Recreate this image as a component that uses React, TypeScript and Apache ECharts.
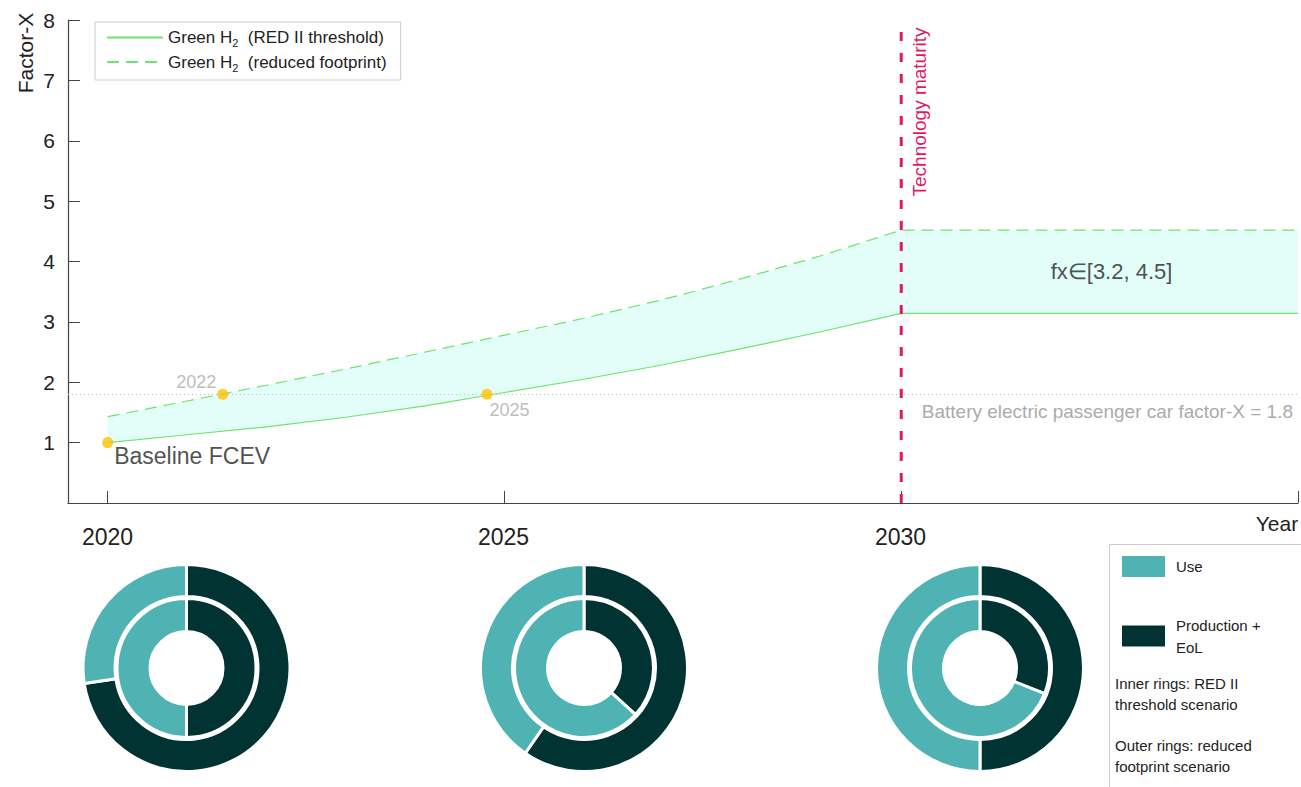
import React, { useEffect, useRef } from 'react';
import * as echarts from 'echarts';

// ---------- data ----------
const years = [2020, 2021, 2022, 2023, 2024, 2025, 2026, 2027, 2028, 2029, 2030, 2035];
const redIIThreshold = [1.0, 1.13, 1.26, 1.42, 1.61, 1.83, 2.05, 2.29, 2.56, 2.84, 3.14, 3.14];
const reducedFootprint = [1.43, 1.69, 1.95, 2.22, 2.5, 2.78, 3.06, 3.37, 3.72, 4.1, 4.52, 4.52];

const milestoneYears = [2020, 2021.45, 2024.78];
const milestoneValues = [1.0, 1.8, 1.8];
const milestoneLabels = ['Baseline FCEV', '2022', '2025'];

const bevFactorX = 1.8;
const bevLabel = 'Battery electric passenger car factor-X = 1.8';
const maturityYear = 2030;
const maturitySpan = [0, 7.85];
const rangeLabel = 'fx\u2208[3.2, 4.5]';
const rangeLabelAt = [2032.65, 3.83];

const xTickValues = [2020, 2025, 2030, 2035];

const pieYears = ['2020', '2025', '2030'];
const innerProduction = [50, 36.7, 31];
const innerUse = [50, 63.3, 69];
const outerProduction = [72.6, 59.6, 50];
const outerUse = [27.4, 40.4, 50];

const SOLID = 'Green H2 (RED II threshold)';
const DASHED = 'Green H2 (reduced footprint)';
const USE = 'Use';
const PROD = 'Production + EoL';

// ---------- style ----------
const FONT = '"Liberation Sans", Arial, Helvetica, sans-serif';
const GREEN = '#6ee46e';
const BAND = '#e3fdf9';
const RED = '#e0185f';
const GOLD = '#fcc200';
const TEAL = '#50b3b3';
const DARK = '#013333';
const TXT = '#222222';
const GREY = '#ababab';
const pieCenters = [[186.5, 668], [584, 668], [980, 668]];
const titleX = [82, 478, 875];

export default function App() {
  const ref = useRef<HTMLDivElement>(null);

  useEffect(() => {
    document.body.style.margin = '0';
    if (!ref.current) return;
    const chart = echarts.init(ref.current, null, { renderer: 'svg' });

    const solidData = years.map((y, i) => [y, redIIThreshold[i]]);
    const dashedData = years.map((y, i) => [y, reducedFootprint[i]]);

    const milestoneLabelStyles: any[] = [
      { position: 'right', distance: 1, offset: [0, 13], color: TXT, fontSize: 23 },
      { position: 'left', distance: 1, offset: [0, -12], color: GREY, fontSize: 18 },
      { position: 'right', distance: -3, offset: [0, 16], color: GREY, fontSize: 18 },
    ];

    const pieSeries: any[] = [];
    pieYears.forEach((yr, i) => {
      pieSeries.push({
        type: 'pie',
        name: yr + ' inner',
        center: pieCenters[i],
        radius: [36.5, 69.5],
        startAngle: 90,
        silent: true,
        label: { show: false },
        labelLine: { show: false },
        itemStyle: { borderColor: '#fff', borderWidth: 3 },
        data: [
          { name: PROD, value: innerProduction[i], itemStyle: { color: DARK } },
          { name: USE, value: innerUse[i], itemStyle: { color: TEAL } },
        ],
      });
      pieSeries.push({
        type: 'pie',
        name: yr + ' outer',
        center: pieCenters[i],
        radius: [71.5, 103.5],
        startAngle: 90,
        silent: true,
        label: { show: false },
        labelLine: { show: false },
        itemStyle: { borderColor: '#fff', borderWidth: 3 },
        data: [
          { name: PROD, value: outerProduction[i], itemStyle: { color: DARK } },
          { name: USE, value: outerUse[i], itemStyle: { color: TEAL } },
        ],
      });
    });

    const graphic: any[] = [
      {
        type: 'text', x: 25, y: 53, rotation: Math.PI / 2,
        style: { text: 'Factor-X', font: `21px ${FONT}`, fill: TXT, align: 'center', verticalAlign: 'middle' },
      },
      {
        type: 'text', x: 1277, y: 523,
        style: { text: 'Year', font: `21px ${FONT}`, fill: TXT, align: 'center', verticalAlign: 'middle' },
      },
      {
        type: 'text', x: 919, y: 112, rotation: Math.PI / 2,
        style: { text: 'Technology maturity', font: `19px ${FONT}`, fill: RED, align: 'center', verticalAlign: 'middle' },
      },
      ...pieYears.map((yr, i) => ({
        type: 'text', x: titleX[i], y: 537,
        style: { text: yr, font: `23px ${FONT}`, fill: TXT, align: 'left', verticalAlign: 'middle' },
      })),
      {
        type: 'rect', shape: { x: 1109.5, y: 544.5, width: 220, height: 260 },
        style: { fill: 'none', stroke: '#cccccc', lineWidth: 1 }, z: 0,
      },
      {
        type: 'text', x: 1115, y: 694,
        style: { text: 'Inner rings: RED II\nthreshold scenario', font: `15px ${FONT}`, lineHeight: 21, fill: TXT, align: 'left', verticalAlign: 'middle' },
      },
      {
        type: 'text', x: 1115, y: 756,
        style: { text: 'Outer rings: reduced\nfootprint scenario', font: `15px ${FONT}`, lineHeight: 21, fill: TXT, align: 'left', verticalAlign: 'middle' },
      },
    ];

    const option: any = {
      animation: false,
      textStyle: { fontFamily: FONT },
      grid: { left: 68, right: 3, top: 20, bottom: 284, containLabel: false },
      xAxis: {
        type: 'value', min: 2019.5, max: 2035,
        axisLine: { lineStyle: { color: '#444', width: 1.2 } },
        axisTick: { show: true, inside: true, length: 12, customValues: xTickValues, lineStyle: { color: '#444' } },
        axisLabel: { show: false },
        splitLine: { show: false },
      },
      yAxis: {
        type: 'value', min: 0, max: 8, interval: 1,
        axisLine: { show: true, lineStyle: { color: '#444', width: 1.2 } },
        axisTick: { show: true, inside: true, length: 12, lineStyle: { color: '#444' } },
        axisLabel: { color: TXT, fontSize: 21, margin: 13, showMinLabel: false },
        splitLine: { show: false },
      },
      legend: [
        {
          data: [SOLID, DASHED],
          orient: 'vertical', left: 95, top: 22,
          padding: [7, 14, 7, 11], itemGap: 5, itemWidth: 56, itemHeight: 14,
          borderColor: '#cccccc', borderWidth: 1, backgroundColor: '#fff',
          selectedMode: false,
          itemStyle: { opacity: 0, borderWidth: 0 },
          formatter: (name: string) =>
            name === SOLID ? '{n|Green H}{s|2}{n|  (RED II threshold)}' : '{n|Green H}{s|2}{n|  (reduced footprint)}',
          textStyle: {
            color: TXT, fontSize: 17,
            rich: {
              n: { fontSize: 17, lineHeight: 22, color: TXT, fontFamily: FONT },
              s: { fontSize: 11, lineHeight: 11, verticalAlign: 'bottom', color: TXT, fontFamily: FONT },
            },
          },
        },
        {
          data: [USE, PROD],
          orient: 'vertical', left: 1120, top: 554,
          padding: 0, itemGap: 35, itemWidth: 45, itemHeight: 23, icon: 'rect',
          selectedMode: false,
          formatter: (name: string) => (name === PROD ? 'Production +\nEoL' : name),
          textStyle: { color: TXT, fontSize: 15, lineHeight: 22, padding: [0, 0, 0, 5] },
        },
      ],
      graphic,
      series: [
        {
          name: 'band', type: 'custom', z: 1, silent: true,
          data: [[years[0], redIIThreshold[0]]],
          renderItem: (params: any, api: any) => {
            const pts: number[][] = [];
            years.forEach((y, i) => pts.push(api.coord([y, redIIThreshold[i]])));
            for (let i = years.length - 1; i >= 0; i--) pts.push(api.coord([years[i], reducedFootprint[i]]));
            return {
              type: 'polygon',
              shape: { points: pts },
              style: { fill: BAND, stroke: 'none' },
            };
          },
        },
        {
          name: SOLID, type: 'line', data: solidData, symbol: 'none', z: 3,
          lineStyle: { color: GREEN, width: 1.2 }, itemStyle: { color: GREEN },
          markLine: {
            silent: true, symbol: 'none', z: 2,
            lineStyle: { color: '#bdbdbd', type: [1, 3], width: 1 },
            label: {
              show: true, position: 'insideEndBottom', formatter: bevLabel,
              color: GREY, fontSize: 19, distance: [5, 8],
            },
            data: [{ yAxis: bevFactorX }],
          },
        },
        {
          name: DASHED, type: 'line', data: dashedData, symbol: 'none', z: 3,
          lineStyle: { color: GREEN, width: 1.2, type: [12, 7] }, itemStyle: { color: GREEN },
        },
        {
          name: 'maturity', type: 'line', symbol: 'none', z: 4, silent: true,
          data: maturitySpan.map((v) => [maturityYear, v]),
          lineStyle: { color: RED, width: 3, type: [9, 12] },
        },
        {
          name: 'milestones', type: 'scatter', symbolSize: 11, z: 6, silent: true,
          itemStyle: { color: GOLD },
          data: milestoneYears.map((y, i) => ({
            value: [y, milestoneValues[i]],
            label: { show: true, formatter: milestoneLabels[i], ...milestoneLabelStyles[i] },
          })),
        },
        {
          name: 'range', type: 'scatter', symbolSize: 1, z: 6, silent: true,
          itemStyle: { color: 'rgba(0,0,0,0)' },
          data: [{
            value: rangeLabelAt,
            label: { show: true, position: 'inside', formatter: rangeLabel, color: TXT, fontSize: 22 },
          }],
        },
        ...pieSeries,
      ],
    };

    chart.setOption(option);
    return () => chart.dispose();
  }, []);

  return <div ref={ref} style={{ width: 1301, height: 787 }} />;
}
